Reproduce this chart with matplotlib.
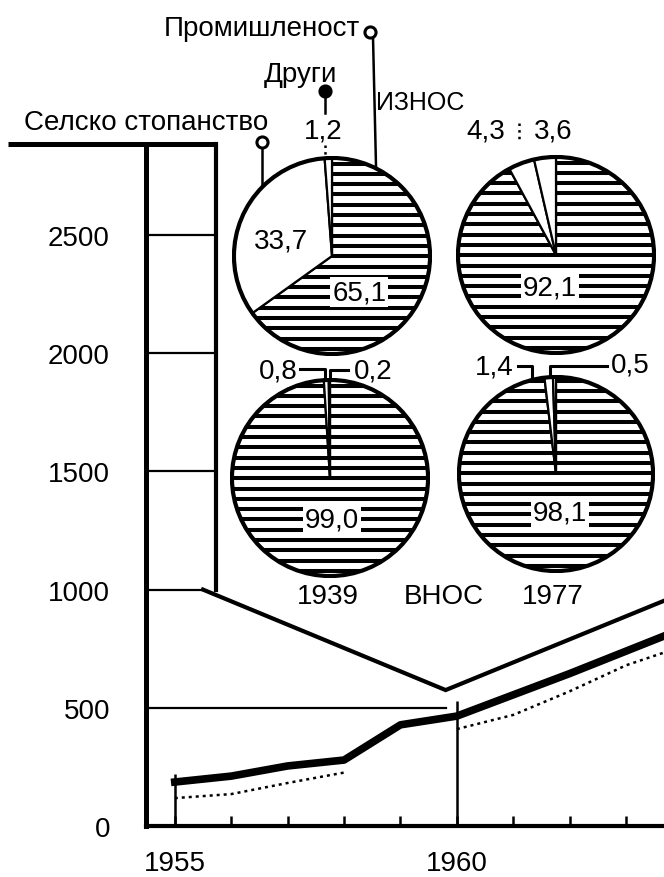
import matplotlib
matplotlib.use('Agg')
import matplotlib.pyplot as plt
from matplotlib.patches import Circle
import numpy as np

plt.rcParams['font.family'] = ['Liberation Sans', 'DejaVu Sans']

# ---------------- data ----------------
years = [1955, 1956, 1957, 1958, 1959, 1960, 1961, 1962, 1963, 1964]
series_main = [186, 211, 254, 279, 428, 465, 555, 645, 740, 835]
series_dotted = [118, 135, 182, 226, np.nan, 410, 470, 570, 680, 760]
v_years = [1955.5, 1959.8, 1964.0]
v_values = [1000, 575, 985]
ytick_values = [0, 500, 1000, 1500, 2000, 2500]
ytick_labels = ['0', '500', '1000', '1500', '2000', '2500']
xtick_years = [1955, 1956, 1957, 1958, 1959, 1960, 1961, 1962, 1963]
xtick_labels = ['1955', '', '', '', '', '1960', '', '', '']
marker_line_years = [1955, 1960]
marker_line_tops = [220, 529]

pie_categories = ['Промишленост', 'Селско стопанство', 'Други']
export_1939 = [65.1, 33.7, 1.2]
export_1977 = [92.1, 4.3, 3.6]
import_1939 = [99.0, 0.8, 0.2]
import_1977 = [98.1, 1.4, 0.5]

# ---------------- layout ----------------
W, H = 664, 878
fig = plt.figure(figsize=(W / 100, H / 100), dpi=100)
fig.patch.set_facecolor('white')


def fx(x):
    return x / W


def fy(y):
    return 1 - y / H


X_LEFT, X_RIGHT = 1954.49, 1963.67
PX_PER_YEAR = (664 - 146) / (X_RIGHT - X_LEFT)
Y_TOP = 2885
RECT_X = 1955.73

ax = fig.add_axes([fx(146), fy(827), (664 - 146) / W, (827 - 145) / H])
ax.set_xlim(X_LEFT, X_RIGHT)
ax.set_ylim(0, Y_TOP)
for s in ['top', 'right']:
    ax.spines[s].set_visible(False)
ax.spines['left'].set_linewidth(3.6)
ax.spines['bottom'].set_linewidth(3.0)

# frame pieces
ax.plot([X_LEFT - (146 - 8) / PX_PER_YEAR, RECT_X], [Y_TOP, Y_TOP], color='black',
        lw=3.6, clip_on=False, solid_capstyle='butt')
ax.plot([RECT_X, RECT_X], [1000, Y_TOP], color='black', lw=3.0, clip_on=False)
for v in [1500, 2000, 2500]:
    ax.plot([X_LEFT, RECT_X], [v, v], color='black', lw=1.6)
ax.plot([X_LEFT, v_years[0]], [1000, 1000], color='black', lw=1.6)
ax.plot([X_LEFT, v_years[1]], [500, 500], color='black', lw=1.6)

# series
ax.plot(v_years, v_values, color='black', lw=3.0, solid_joinstyle='miter')
ax.plot(years, series_main, color='black', lw=5.5, solid_joinstyle='round')
ax.plot(years, series_dotted, color='black', lw=1.8, ls=(0, (1.2, 1.6)))
ax.vlines(marker_line_years, 0, marker_line_tops, color='black', lw=1.8)

ax.set_xticks(xtick_years)
ax.set_xticklabels(xtick_labels)
ax.tick_params(axis='x', direction='in', length=7, width=1.8, pad=17, labelsize=20)
ax.set_yticks(ytick_values)
ax.set_yticklabels(ytick_labels)
ax.tick_params(axis='y', length=0, pad=26, labelsize=20)


# ---------------- pies ----------------
def draw_pie(cx, cy, r, values, main_label, main_pos, extra=None):
    pax = fig.add_axes([fx(cx - r), fy(cy + r), 2 * r / W, 2 * r / H])
    pax.patch.set_visible(False)
    wedges, _ = pax.pie(values, startangle=90, counterclock=False,
                        colors=['white'] * len(values),
                        wedgeprops=dict(edgecolor='black', linewidth=1.6))
    pax.set_xlim(-1.02, 1.02)
    pax.set_ylim(-1.02, 1.02)
    pax.set_axis_off()
    step = 10.5 / r
    for yy in np.arange(-1.0 + step / 2, 1.0, step):
        ln, = pax.plot([-1.1, 1.1], [yy, yy], color='black', lw=2.9)
        ln.set_clip_path(wedges[0])
    pax.add_patch(Circle((0, 0), 1.0, fill=False, lw=3.0, ec='black'))
    pax.text(main_pos[0], main_pos[1], main_label, ha='center', va='center',
             fontsize=20, bbox=dict(fc='white', ec='none', pad=1.5))
    if extra:
        for txt, pos in extra:
            pax.text(pos[0], pos[1], txt, ha='center', va='center', fontsize=20)
    return pax


def fmt(v):
    return f'{v:.1f}'.replace('.', ',')


draw_pie(332, 257, 100, export_1939, fmt(export_1939[0]), (0.28, -0.37),
         extra=[(fmt(export_1939[1]), (-0.52, 0.16))])
draw_pie(556, 256, 100, export_1977, fmt(export_1977[0]), (-0.06, -0.33))
draw_pie(330, 479, 100, import_1939, fmt(import_1939[0]), (0.02, -0.42))
draw_pie(556, 475, 99, import_1977, fmt(import_1977[0]), (0.04, -0.40))


# ---------------- annotations ----------------
def ftext(x, y, s, size=20, **kw):
    fig.text(fx(x), fy(y), s, ha='center', va='center', fontsize=size, **kw)


def fline(xs, ys, lw=1.8, **kw):
    fig.add_artist(plt.Line2D([fx(v) for v in xs], [fy(v) for v in ys],
                              color='black', lw=lw, transform=fig.transFigure, **kw))


ftext(262, 29, pie_categories[0])
ftext(300, 75, pie_categories[2])
ftext(146, 123, pie_categories[1])
ftext(420, 103, 'ИЗНОС', size=18)
ftext(323, 131, fmt(export_1939[2]))
ftext(486, 132, fmt(export_1977[1]))
ftext(553, 132, fmt(export_1977[2]))
ftext(278, 372, fmt(import_1939[1]))
ftext(373, 372, fmt(import_1939[2]))
ftext(494, 367, fmt(import_1977[1]))
ftext(630, 366, fmt(import_1977[2]))
ftext(328, 597, '1939')
ftext(444, 597, 'ВНОС')
ftext(553, 597, '1977')

# leader lines and markers
fline([373, 376], [38, 167])
fline([262, 262], [148, 186])
fline([325, 325], [96, 114])
fline([325, 325], [146, 157], ls=':')
fline([519, 519], [124, 142], ls=':')
fline([300, 325, 325], [370, 370, 380], lw=2.2)
fline([348, 330, 330], [371, 371, 380], lw=2.2)
fline([518, 532, 532], [367, 367, 381], lw=2.2)
fline([607, 550, 550], [367, 367, 378], lw=2.2)
for (mx, my, filled) in [(370, 33, False), (262, 143, False), (325, 92, True)]:
    fig.add_artist(plt.Line2D([fx(mx)], [fy(my)], marker='o', markersize=8,
                              mfc='black' if filled else 'white', mec='black', mew=2.2,
                              transform=fig.transFigure))

fig.savefig('out.png', dpi=100, facecolor='white')
